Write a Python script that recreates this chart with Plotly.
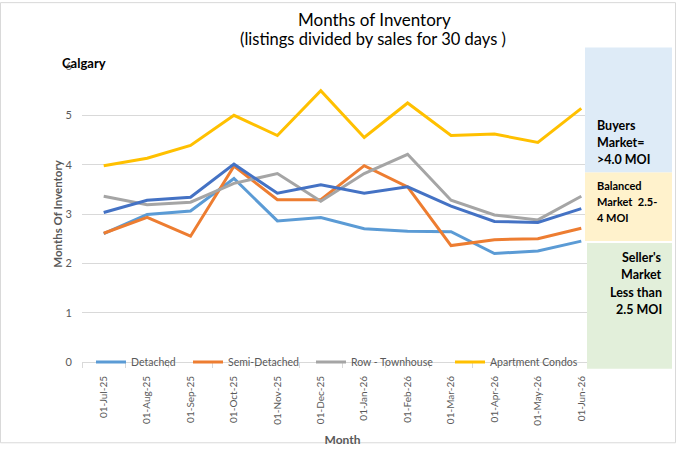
import plotly.graph_objects as go

months = ["01-Jul-25", "01-Aug-25", "01-Sep-25", "01-Oct-25", "01-Nov-25", "01-Dec-25",
          "01-Jan-26", "01-Feb-26", "01-Mar-26", "01-Apr-26", "01-May-26", "01-Jun-26"]

detached = [2.60, 2.99, 3.06, 3.72, 2.86, 2.93, 2.70, 2.65, 2.64, 2.20, 2.25, 2.45]
semi_detached = [2.61, 2.93, 2.55, 3.97, 3.29, 3.29, 3.98, 3.55, 2.36, 2.48, 2.50, 2.71]
row_townhouse = [3.36, 3.19, 3.24, 3.62, 3.82, 3.26, 3.82, 4.21, 3.28, 2.98, 2.88, 3.36]
apartment = [3.98, 4.13, 4.39, 5.00, 4.59, 5.50, 4.55, 5.25, 4.59, 4.62, 4.45, 5.14]
total = [3.03, 3.28, 3.34, 4.01, 3.42, 3.59, 3.42, 3.55, 3.16, 2.85, 2.83, 3.11]

title_lines = ["Months of Inventory", "(listings divided by sales for 30 days )"]

FONT = "Lato"
GREY = "#595959"

W, H = 676, 456
L, R, T, B = 82, 73, 66, 84
pw, ph = W - L - R, H - T - B

def px(x):
    return (x - L) / pw

def py(y):
    return (H - B - y) / ph

fig = go.Figure()
series = [
    ("Detached", detached, "#5B9BD5", "legend", 91),
    ("Semi-Detached", semi_detached, "#ED7D31", "legend2", 188),
    ("Row - Townhouse", row_townhouse, "#A5A5A5", "legend3", 311),
    ("Apartment Condos", apartment, "#FFC000", "legend4", 450),
    ("Total", total, "#4472C4", None, None),
]
legends = {}
for name, vals, col, lg, lx in series:
    kw = dict(x=months, y=vals, name=name, mode="lines", line=dict(color=col, width=3))
    if lg is None:
        kw["showlegend"] = False
    else:
        kw["legend"] = lg
        legends[lg] = dict(orientation="h", x=px(lx), y=py(372), xanchor="left", yanchor="middle",
                           bgcolor="rgba(0,0,0,0)", font=dict(family=FONT, size=10.5, color=GREY),
                           itemwidth=30)
    fig.add_trace(go.Scatter(**kw))

shapes = [
    dict(type="rect", xref="paper", yref="paper", x0=px(585), x1=px(672), y0=py(176), y1=py(47),
         fillcolor="#DEEBF7", line=dict(width=0), layer="above"),
    dict(type="rect", xref="paper", yref="paper", x0=px(585), x1=px(672), y0=py(247), y1=py(176),
         fillcolor="#FFF2CC", line=dict(width=0), layer="above"),
    dict(type="rect", xref="paper", yref="paper", x0=px(587), x1=px(672), y0=py(379), y1=py(249),
         fillcolor="#E2EFDA", line=dict(width=0), layer="above"),
    dict(type="rect", xref="paper", yref="paper", x0=px(0.5), x1=px(675.5), y0=py(455.5), y1=py(0.5),
         fillcolor="rgba(0,0,0,0)", line=dict(width=1, color="#D9D9D9"), layer="above"),
]

def note(text, x, y, anchor, size, bold=True):
    f = dict(family=FONT, size=size, color="#000000")
    if bold:
        f["weight"] = "bold"
    return dict(text=text, xref="paper", yref="paper", x=px(x), y=py(y), xanchor=anchor,
                yanchor="middle", showarrow=False, font=f)

annotations = [
    note(title_lines[0], 374, 18, "center", 17, bold=False),
    note(title_lines[1], 373, 38, "center", 16.5, bold=False),
    note("Calgary", 60, 63, "left", 13),
]
buyers = ["Buyers", "Market=", ">4.0 MOI"]
for i, t in enumerate(buyers):
    annotations.append(note(t, 595, 128 + 17.5 * i, "left", 12.5))
balanced = ["Balanced", "Market  2.5-", "4 MOI"]
for i, t in enumerate(balanced):
    annotations.append(note(t, 595, 190 + 16.5 * i, "left", 11))
sellers = ["Seller's", "Market", "Less than", "2.5 MOI"]
for i, t in enumerate(sellers):
    annotations.append(note(t, 664, 264 + 18 * i, "right", 12.5))

fig.update_layout(
    width=W, height=H,
    margin=dict(l=L, r=R, t=T, b=B),
    paper_bgcolor="white", plot_bgcolor="white",
    xaxis=dict(type="category", range=[-0.5, 11.5], tickangle=-90, tickson="boundaries",
               ticks="outside", ticklen=5, tickcolor="#D9D9D9", showline=True, linecolor="#D9D9D9",
               showgrid=False, tickfont=dict(family=FONT, size=10, color=GREY),
               ticklabelstandoff=9,
               title=dict(text="Month", standoff=10, font=dict(family=FONT, size=12, color=GREY, weight="bold"))),
    yaxis=dict(range=[0, 6], dtick=1, showgrid=True, gridcolor="#D9D9D9", zeroline=False,
               showline=False, ticks="", tickfont=dict(family=FONT, size=11, color=GREY),
               ticklabelstandoff=9,
               title=dict(text="Months Of Inventory", standoff=0,
                          font=dict(family=FONT, size=11.5, color=GREY, weight="bold"))),
    shapes=shapes, annotations=annotations,
    **legends,
)

fig.write_html("out.html")
